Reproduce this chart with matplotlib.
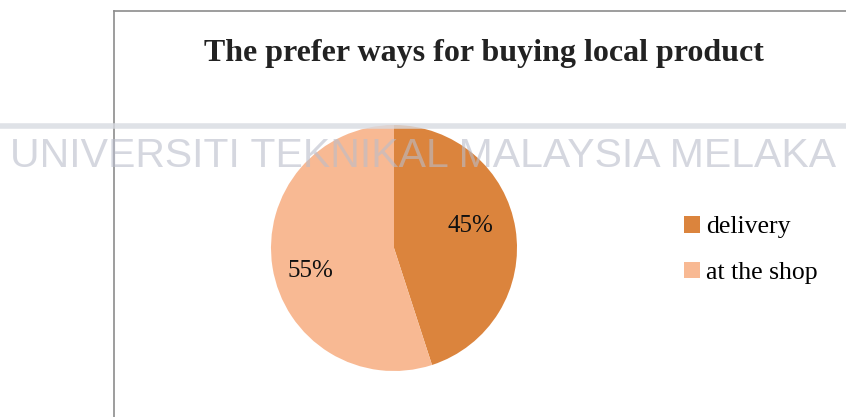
import matplotlib
matplotlib.use("Agg")
import matplotlib.pyplot as plt

W, H = 846, 417

# ── Data ──────────────────────────────────────────────────────────────────────
labels = ["delivery", "at the shop"]
shares = [45, 55]
colors = ["#DB843D", "#F8B993"]
title = "The prefer ways for buying local product"
watermark = "UNIVERSITI TEKNIKAL MALAYSIA MELAKA"

fig = plt.figure(figsize=(W / 100, H / 100), dpi=100)
fig.patch.set_facecolor("white")
ax = fig.add_axes([0, 0, 1, 1])
ax.set_xlim(0, W)
ax.set_ylim(0, H)
ax.set_aspect("equal")
ax.axis("off")

# chart frame (cropped: only left and top edges visible)
ax.plot([114, 114], [0, H - 11], color="#8C8C8C", lw=1.2, zorder=1)
ax.plot([114, W], [H - 11, H - 11], color="#8C8C8C", lw=1.2, zorder=1)

cx, cy = 394, H - 248
wedges, texts, autotexts = ax.pie(
    shares, colors=colors, startangle=90, counterclock=False,
    center=(cx, cy), radius=123, autopct="%d%%", pctdistance=0.66,
    textprops=dict(family="Liberation Serif", fontsize=18, color="#111111"),
    wedgeprops=dict(linewidth=0),
)
# Excel "best fit" label spots
autotexts[0].set_position((cx + 76, cy + 22))
autotexts[1].set_position((cx - 84, cy - 23))
ax.set_xlim(0, W)
ax.set_ylim(0, H)
ax.axis("off")

ax.text(484, H - 61, title, ha="center", va="baseline",
        family="Liberation Serif", fontweight="bold", fontsize=23,
        color="#222222")

leg = ax.legend(wedges, labels, loc="center left",
                bbox_to_anchor=(661 / W, 1 - 250 / H), frameon=False,
                prop=dict(family="Liberation Serif", size=18.5),
                handlelength=0.62, handleheight=0.62, handletextpad=0.25,
                labelspacing=0.9)

# watermark overlay
ax.plot([0, W], [H - 126, H - 126], color="#D8DBE2", lw=4, alpha=0.8, zorder=5)
ax.text(W / 2, H - 156, watermark, ha="center", va="center",
        family="Liberation Sans", fontsize=29.5, color="#B9BDCB",
        alpha=0.6, zorder=6)

fig.savefig("out.png", dpi=100)
